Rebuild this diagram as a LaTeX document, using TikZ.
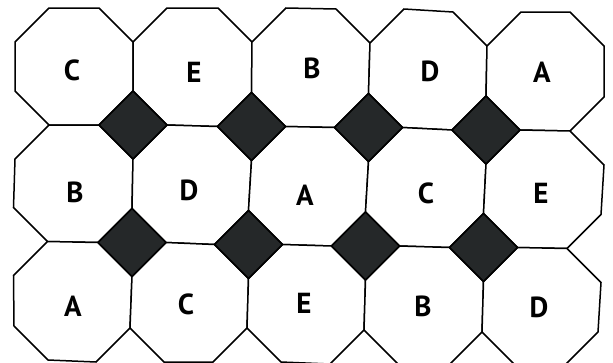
\documentclass[tikz,border=0pt]{standalone}
\usepackage{fontspec}
\setmainfont{PT Sans}
\usetikzlibrary{calc}
\definecolor{tiledark}{RGB}{37,40,41}
\tikzset{
  octa/.style={draw=black, fill=white, line width=1.5pt, line join=miter},
  diam/.style={draw=black, fill=tiledark, line width=1.5pt, line join=miter},
  lbl/.style={font=\fontsize{29}{29}\selectfont\bfseries, inner sep=0pt, anchor=center}
}
\begin{document}
\begin{tikzpicture}[x=1pt,y=-1pt]
\useasboundingbox (0,0) rectangle (613,362);
\def\c{34}
\foreach \i/\j/\x/\y in {
 0/0/15/8, 1/0/133/8, 2/0/252/8, 3/0/370/9, 4/0/487/12, 5/0/604/12,
 0/1/15/125, 1/1/133/125, 2/1/251.5/126.5, 3/1/368.5/127.5, 4/1/486/130, 5/1/604/131,
 0/2/13.5/241.5, 1/2/132/242.5, 2/2/248.5/244.5, 3/2/365.5/246, 4/2/483.5/247.5, 5/2/601/248.5,
 0/3/14/360, 1/3/130/362, 2/3/247/362, 3/3/364/364, 4/3/482/366, 5/3/598/366}
  \coordinate (p-\i-\j) at (\x,\y);
\foreach \i in {0,...,4}{
  \foreach \j in {0,1,2}{
    \pgfmathtruncatemacro\ii{\i+1}
    \pgfmathtruncatemacro\jj{\j+1}
    \draw[octa] ($(p-\i-\j)+(\c,0)$) -- ($(p-\ii-\j)+(-\c,0)$) -- ($(p-\ii-\j)+(0,\c)$)
      -- ($(p-\ii-\jj)+(0,-\c)$) -- ($(p-\ii-\jj)+(-\c,0)$) -- ($(p-\i-\jj)+(\c,0)$)
      -- ($(p-\i-\jj)+(0,-\c)$) -- ($(p-\i-\j)+(0,\c)$) -- cycle;
  }
}
\foreach \i in {1,...,4}{
  \foreach \j in {1,2}{
    \draw[diam] ($(p-\i-\j)+(0,-\c)$) -- ($(p-\i-\j)+(\c,0)$) -- ($(p-\i-\j)+(0,\c)$)
      -- ($(p-\i-\j)+(-\c,0)$) -- cycle;
  }
}
\node[lbl] (l11) at (72,70) {C};
\node[lbl] (l12) at (194,72) {E};
\node[lbl] (l13) at (312,68) {B};
\node[lbl] (l14) at (430,71) {D};
\node[lbl] (l15) at (542,72) {A};
\node[lbl] (l21) at (75,192) {B};
\node[lbl] (l22) at (189,190) {D};
\node[lbl] (l23) at (305,195) {A};
\node[lbl] (l24) at (426,193) {C};
\node[lbl] (l25) at (541,193) {E};
\node[lbl] (l31) at (73,306) {A};
\node[lbl] (l32) at (186,304) {C};
\node[lbl] (l33) at (304,303) {E};
\node[lbl] (l34) at (423,306) {B};
\node[lbl] (l35) at (539,307) {D};
\end{tikzpicture}
\end{document}
